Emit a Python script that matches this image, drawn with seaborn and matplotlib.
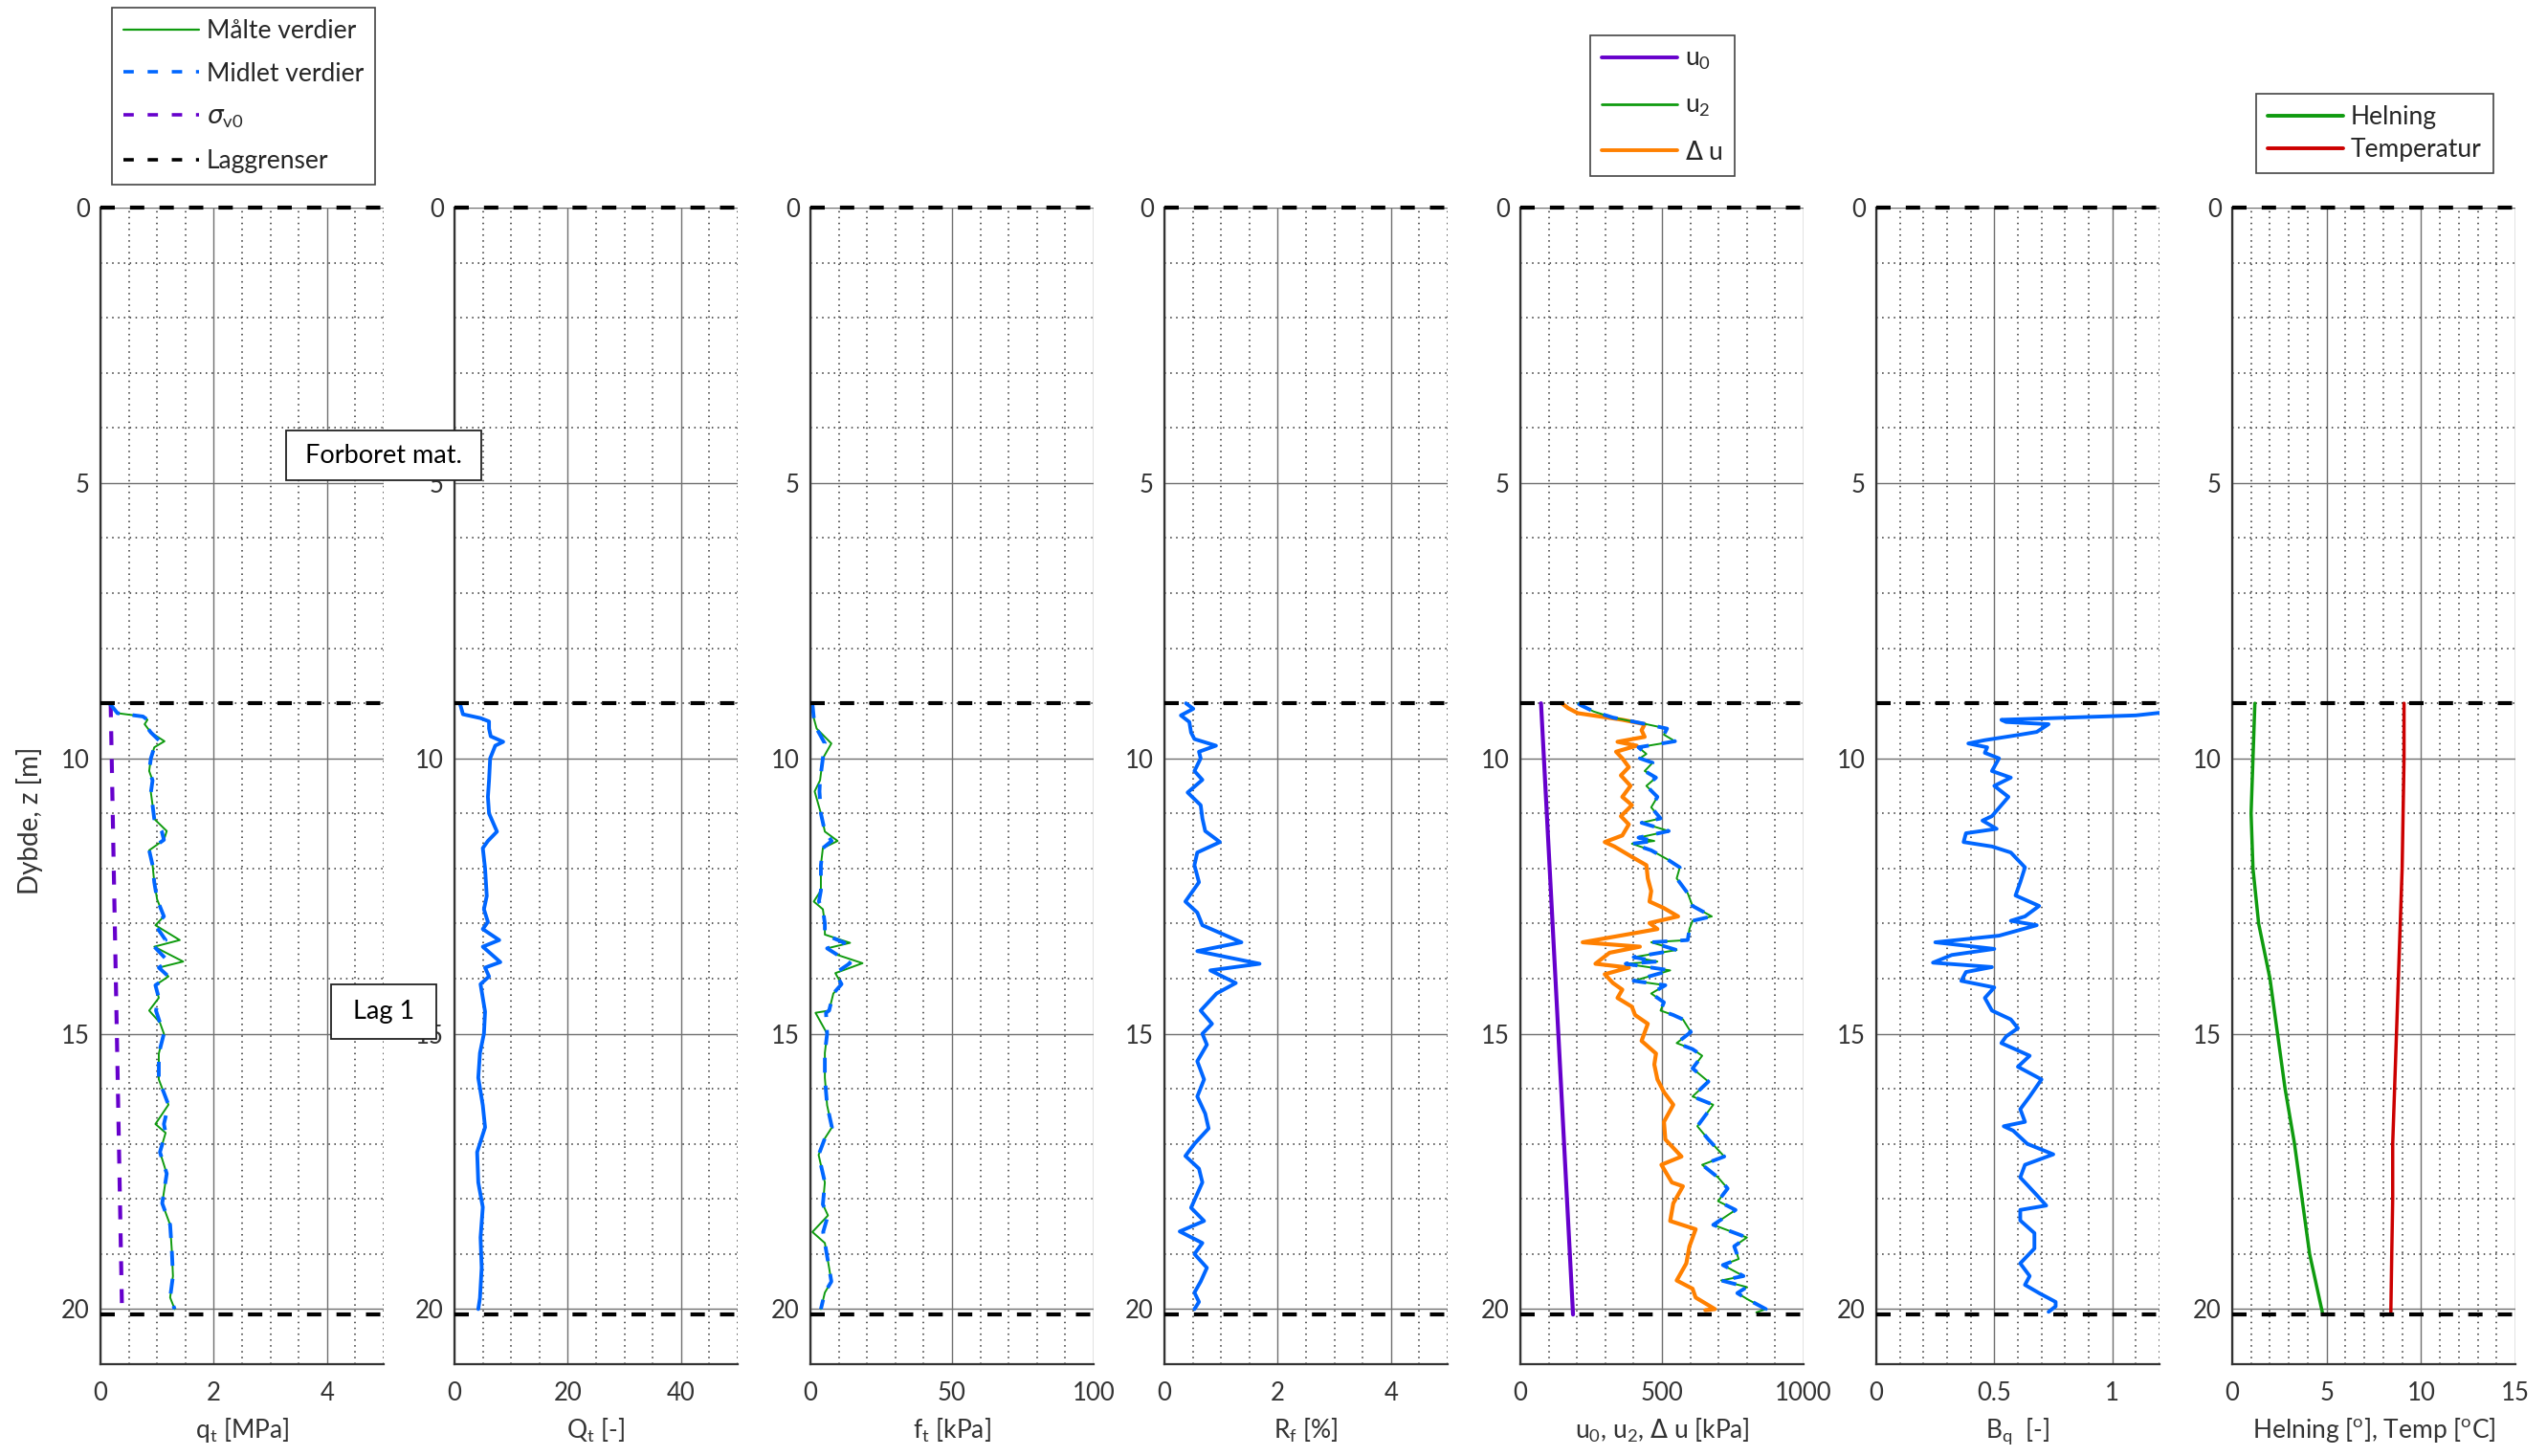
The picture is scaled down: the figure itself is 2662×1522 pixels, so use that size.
import matplotlib
matplotlib.use("Agg")
import matplotlib.pyplot as plt
from matplotlib.lines import Line2D
from matplotlib.ticker import MultipleLocator, FuncFormatter
import seaborn as sns

# ---------------- data ----------------
layer_bounds = [0.0, 9.0, 20.1]

z_qt = [9.0, 9.18, 9.24, 9.3, 9.38, 9.53, 9.69, 9.8, 10.0, 10.23, 10.4, 10.62, 10.85, 11.1, 11.32,
        11.48, 11.67, 11.94, 12.25, 12.56, 12.87, 13.03, 13.3, 13.42, 13.69, 13.8, 13.96, 14.12, 14.35,
        14.58, 14.8, 15.0, 15.36, 15.83, 16.29, 16.64, 16.8, 17.15, 17.54, 18.08, 18.47, 18.94, 19.4,
        19.79, 20.0]
qt_meas = [0.16, 0.30, 0.75, 0.83, 0.78, 0.89, 1.13, 0.95, 0.89, 0.86, 0.92, 0.89, 0.92, 0.95, 1.17,
           1.12, 0.86, 0.92, 0.95, 1.00, 1.12, 0.97, 1.40, 0.95, 1.46, 1.03, 1.20, 0.97, 1.03,
           0.86, 1.05, 1.12, 1.03, 1.03, 1.20, 0.97, 1.15, 1.05, 1.17, 1.09, 1.23, 1.26, 1.28, 1.23, 1.31]
qt_avg = [0.16, 0.30, 0.75, 0.83, 0.78, 0.89, 1.05, 0.95, 0.89, 0.86, 0.92, 0.89, 0.92, 0.95, 1.08,
          1.12, 0.86, 0.92, 0.95, 1.00, 1.12, 0.97, 1.15, 0.95, 1.20, 1.03, 1.20, 0.97, 1.03,
          0.98, 1.05, 1.12, 1.03, 1.03, 1.20, 1.12, 1.15, 1.05, 1.17, 1.09, 1.23, 1.26, 1.28, 1.23, 1.31]
z_sv0 = [9.0, 20.0]
sv0 = [0.18, 0.38]

z_Qt = [9.0, 9.2, 9.27, 9.33, 9.46, 9.6, 9.7, 9.77, 10.0, 10.4, 10.7, 11.0, 11.33, 11.5, 11.63, 12.0,
        12.5, 12.74, 12.97, 13.1, 13.3, 13.42, 13.7, 13.8, 13.96, 14.1, 14.6, 15.0, 15.35, 15.8, 16.3,
        16.7, 17.15, 17.7, 18.15, 18.7, 19.25, 19.8, 20.0]
Qt = [0.95, 1.5, 4.6, 6.1, 6.1, 6.4, 8.6, 7.2, 6.3, 6.1, 5.9, 6.1, 7.5, 5.9, 5.0, 5.4,
      5.7, 5.2, 5.9, 5.0, 7.9, 5.0, 8.1, 5.4, 6.1, 4.6, 5.4, 5.2, 4.5, 4.2, 5.0,
      5.4, 4.0, 4.2, 5.0, 4.6, 4.8, 4.5, 4.2]

z_ft = [9.0, 9.27, 9.46, 9.73, 10.0, 10.4, 10.6, 11.0, 11.33, 11.5, 11.63, 11.94, 12.4, 12.6, 12.74,
        13.0, 13.2, 13.35, 13.45, 13.57, 13.72, 13.9, 14.1, 14.27, 14.58, 14.62, 15.0, 15.35, 15.8,
        16.3, 16.7, 16.9, 17.2, 17.7, 18.1, 18.3, 18.6, 18.8, 19.25, 19.5, 19.7, 20.0]
ft_meas = [0.7, 1.2, 2.2, 7.4, 4.4, 3.4, 1.5, 3.7, 5.1, 9.6, 4.4, 3.7, 3.7, 1.2, 4.4,
           5.1, 5.1, 14.0, 5.9, 9.6, 18.4, 8.8, 11.0, 8.1, 6.6, 1.8, 5.9, 5.1, 5.1,
           5.9, 7.6, 5.1, 2.9, 5.1, 4.4, 6.2, 0.7, 5.1, 6.6, 7.4, 5.1, 3.7]
ft_avg = [0.7, 1.2, 2.2, 5.1, 4.4, 3.4, 3.2, 3.7, 5.1, 7.5, 4.4, 3.7, 3.7, 3.0, 4.4,
          5.1, 5.1, 12.0, 5.9, 9.6, 14.0, 8.8, 11.0, 8.1, 6.6, 5.5, 5.9, 5.1, 5.1,
          5.9, 7.6, 5.1, 2.9, 5.1, 4.4, 6.2, 4.5, 5.1, 6.6, 7.4, 5.1, 3.7]

z_rf = [9.0, 9.1, 9.22, 9.34, 9.53, 9.65, 9.77, 9.88, 10.0, 10.23, 10.39, 10.62, 10.85, 11.09, 11.32,
        11.52, 11.71, 11.94, 12.25, 12.6, 12.8, 13.03, 13.34, 13.5, 13.73, 13.85, 14.08, 14.27, 14.58,
        14.82, 15.0, 15.2, 15.5, 15.83, 16.14, 16.45, 16.72, 17.0, 17.22, 17.45, 17.7, 18.16, 18.4,
        18.59, 18.8, 19.0, 19.25, 19.5, 19.7, 19.87, 20.0]
Rf = [0.38, 0.51, 0.29, 0.44, 0.47, 0.53, 0.91, 0.61, 0.64, 0.53, 0.67, 0.41, 0.64, 0.67, 0.72,
      0.98, 0.58, 0.53, 0.61, 0.37, 0.58, 0.67, 1.36, 0.58, 1.68, 0.81, 1.26, 0.92, 0.64,
      0.84, 0.67, 0.75, 0.58, 0.70, 0.58, 0.72, 0.78, 0.53, 0.37, 0.61, 0.67, 0.47, 0.70,
      0.27, 0.67, 0.53, 0.75, 0.64, 0.53, 0.61, 0.53]

z_u0 = [9.0, 20.1]
u0 = [73, 186]
z_u2 = [9.0, 9.04, 9.15, 9.26, 9.38, 9.46, 9.57, 9.69, 9.8, 9.92, 10.0, 10.08, 10.23, 10.35, 10.5,
        10.7, 10.89, 11.09, 11.17, 11.32, 11.44, 11.5, 11.55, 11.67, 11.83, 11.98, 12.18, 12.45,
        12.68, 12.87, 12.95, 13.1, 13.3, 13.34, 13.48, 13.61, 13.69, 13.73, 13.85, 14.04, 14.12,
        14.27, 14.43, 14.58, 14.66, 14.74, 14.97, 15.17, 15.28, 15.4, 15.63, 15.87, 16.14, 16.29,
        16.68, 16.92, 17.23, 17.38, 17.61, 17.81, 18.04, 18.2, 18.47, 18.7, 18.86, 19.09, 19.2,
        19.4, 19.48, 19.6, 19.71, 19.83, 20.0, 20.06]
u2 = [203, 215, 259, 327, 445, 518, 507, 546, 417, 445, 422, 467, 439, 479, 445,
      484, 462, 495, 428, 524, 417, 473, 394, 462, 518, 563, 552, 591,
      608, 676, 608, 597, 591, 462, 552, 400, 484, 372, 529, 400, 512,
      462, 507, 495, 540, 574, 602, 552, 608, 642, 608, 664, 608, 681,
      625, 664, 720, 642, 698, 732, 698, 760, 681, 800, 755, 771, 715,
      788, 709, 800, 766, 805, 867, 833]
z_du = [9.0, 9.09, 9.18, 9.3, 9.38, 9.49, 9.61, 9.7, 9.77, 9.88, 10.0, 10.16, 10.31, 10.5, 10.7,
        10.85, 11.05, 11.2, 11.4, 11.52, 11.6, 11.79, 11.94, 12.18, 12.41, 12.6, 12.72, 12.87, 12.99,
        13.1, 13.34, 13.42, 13.53, 13.73, 13.8, 13.92, 14.08, 14.2, 14.35, 14.51, 14.66, 14.82,
        15.13, 15.36, 15.56, 15.83, 16.06, 16.29, 16.6, 16.92, 17.23, 17.38, 17.7, 17.77, 18.08,
        18.4, 18.55, 18.86, 19.17, 19.48, 19.63, 19.79, 20.0, 20.02]
du = [146, 169, 203, 360, 439, 428, 439, 343, 411, 338, 360, 383, 355, 389, 360,
      394, 355, 383, 360, 298, 332, 394, 445, 450, 462, 456, 507, 557, 456,
      484, 220, 422, 315, 265, 383, 298, 327, 360, 343, 394, 405, 450,
      428, 479, 473, 484, 507, 540, 507, 512, 569, 498, 535, 574, 540,
      529, 619, 597, 586, 552, 608, 619, 687, 653]

z_bq = [9.05, 9.15, 9.22, 9.3, 9.34, 9.38, 9.52, 9.57, 9.67, 9.73, 9.8, 9.9, 10.0, 10.23, 10.35,
        10.5, 10.7, 10.85, 11.05, 11.13, 11.28, 11.36, 11.52, 11.6, 11.71, 11.98, 12.25, 12.49,
        12.68, 12.87, 12.95, 13.03, 13.22, 13.34, 13.46, 13.57, 13.71, 13.79, 13.88, 14.04, 14.16,
        14.35, 14.58, 14.74, 14.9, 15.05, 15.17, 15.4, 15.6, 15.83, 16.14, 16.37, 16.6, 16.68,
        16.76, 17.0, 17.19, 17.38, 17.61, 17.93, 18.12, 18.2, 18.39, 18.62, 18.9, 19.17, 19.4,
        19.56, 19.71, 19.87, 19.95, 20.05]
Bq = [1.6, 1.25, 1.10, 0.53, 0.55, 0.73, 0.68, 0.61, 0.46, 0.39, 0.47, 0.46, 0.52, 0.49, 0.57,
      0.50, 0.56, 0.53, 0.49, 0.45, 0.51, 0.38, 0.37, 0.49, 0.57, 0.63, 0.61, 0.59,
      0.69, 0.63, 0.57, 0.68, 0.52, 0.25, 0.50, 0.32, 0.24, 0.49, 0.38, 0.36, 0.50,
      0.46, 0.49, 0.57, 0.60, 0.55, 0.53, 0.65, 0.60, 0.70, 0.65, 0.61, 0.63, 0.54,
      0.58, 0.64, 0.75, 0.63, 0.61, 0.68, 0.72, 0.61, 0.61, 0.67, 0.67, 0.61, 0.65,
      0.63, 0.69, 0.76, 0.76, 0.73]

z_inc = [9.0, 10.0, 11.0, 12.0, 13.0, 14.0, 15.0, 16.0, 17.0, 18.0, 19.0, 20.1]
helning = [1.2, 1.1, 1.0, 1.1, 1.4, 2.0, 2.4, 2.8, 3.3, 3.7, 4.1, 4.8]
temperatur = [9.1, 9.1, 9.05, 9.0, 8.9, 8.8, 8.7, 8.6, 8.5, 8.5, 8.45, 8.4]

xlabels = [r'q$_\mathregular{t}$ [MPa]', r'Q$_\mathregular{t}$ [-]', r'f$_\mathregular{t}$ [kPa]',
           r'R$_\mathregular{f}$ [%]',
           r'u$_\mathregular{0}$, u$_\mathregular{2}$, $\Delta$ u [kPa]',
           r'B$_\mathregular{q}$  [-]',
           r'Helning [$^\mathregular{o}$], Temp [$^\mathregular{o}$C]']
xlims = [5, 50, 100, 5, 1000, 1.2, 15]
xmajor = [2, 20, 50, 2, 500, 0.5, 5]
xminor = [0.5, 5, 10, 0.5, 100, 0.1, 1]

# ---------------- style ----------------
sns.set_style("white")
plt.rcParams['font.family'] = ['Lato', 'DejaVu Sans']
plt.rcParams['mathtext.fontset'] = 'dejavusans'

GREEN = '#0f9b0f'
BLUE = '#0066ff'
PURPLE = '#6600cc'
ORANGE = '#ff8000'
RED = '#cc0000'
TXT = '#333333'
FS = 19

W, H = 2662, 1522
fig = plt.figure(figsize=(W / 100, H / 100), dpi=100)
lefts = [105, 475, 847, 1217, 1589, 1961, 2333]
axw = 296
top, bot = 217, 1426
axes = [fig.add_axes([l / W, 1 - bot / H, axw / W, (bot - top) / H]) for l in lefts]

BLUE_DASH = (0, (4, 3.5))
LAYER_DASH = (0, (3.6, 3.8))


def line(ax, x, y, **kw):
    sns.lineplot(x=x, y=y, orient='y', sort=False, estimator=None, ax=ax, **kw)


# panel 1
ax = axes[0]
line(ax, sv0, z_sv0, color=PURPLE, lw=3.0, linestyle=(0, (3.5, 3.5)))
line(ax, qt_meas, z_qt, color=GREEN, lw=1.4)
line(ax, qt_avg, z_qt, color=BLUE, lw=2.8, linestyle=BLUE_DASH)
# panel 2
line(axes[1], Qt, z_Qt, color=BLUE, lw=2.8)
# panel 3
line(axes[2], ft_meas, z_ft, color=GREEN, lw=1.4)
line(axes[2], ft_avg, z_ft, color=BLUE, lw=2.8, linestyle=BLUE_DASH)
# panel 4
line(axes[3], Rf, z_rf, color=BLUE, lw=2.8)
# panel 5
line(axes[4], u0, z_u0, color=PURPLE, lw=3.0)
line(axes[4], du, z_du, color=ORANGE, lw=3.0)
line(axes[4], u2, z_u2, color=GREEN, lw=1.4)
line(axes[4], u2, z_u2, color=BLUE, lw=2.8, linestyle=BLUE_DASH)
# panel 6
line(axes[5], Bq, z_bq, color=BLUE, lw=2.8)
# panel 7
line(axes[6], helning, z_inc, color=GREEN, lw=2.5)
line(axes[6], temperatur, z_inc, color=RED, lw=2.5)

for i, ax in enumerate(axes):
    ax.set_xlim(0, xlims[i])
    ax.set_ylim(21, 0)
    ax.xaxis.set_major_locator(MultipleLocator(xmajor[i]))
    ax.xaxis.set_minor_locator(MultipleLocator(xminor[i]))
    ax.yaxis.set_major_locator(MultipleLocator(5))
    ax.yaxis.set_minor_locator(MultipleLocator(1))
    ax.xaxis.set_major_formatter(FuncFormatter(lambda v, p: f'{v:g}'))
    ax.yaxis.set_major_formatter(FuncFormatter(lambda v, p: f'{v:g}'))
    ax.grid(which='major', color='#707070', lw=1.0, ls='-')
    ax.grid(which='minor', color='#303030', lw=1.1, ls=(0, (1, 3)))
    ax.set_axisbelow(True)
    for s in ['top', 'right']:
        ax.spines[s].set_visible(False)
    for s in ['left', 'bottom']:
        ax.spines[s].set_color(TXT)
        ax.spines[s].set_linewidth(1.6)
    ax.tick_params(which='both', direction='in', color=TXT, width=1.2,
                   labelsize=18.5, labelcolor=TXT)
    ax.tick_params(which='major', length=9)
    ax.tick_params(which='minor', length=5)
    ax.tick_params(axis='x', pad=13)
    ax.tick_params(axis='y', pad=8)
    ax.set_xlabel(xlabels[i], fontsize=FS, color=TXT, labelpad=8)
    ax.set_ylabel('')
    for d in layer_bounds:
        ax.axhline(d, color='black', lw=3.0, ls=LAYER_DASH, clip_on=False, zorder=5)

fig.text(31 / W, 1 - 858 / H, 'Dybde, z [m]', rotation=90, ha='center', va='center',
         fontsize=20, color=TXT)

# text boxes on top of everything
fig.text(5.0, 4.5, ' Forboret mat. ', transform=axes[0].transData, ha='center', va='center',
         fontsize=19.5, color='black',
         bbox=dict(boxstyle='square,pad=0.5', fc='white', ec='#222222', lw=1.3), zorder=10)
fig.text(5.0, 14.6, ' Lag 1 ', transform=axes[0].transData, ha='center', va='center',
         fontsize=19.5, color='black',
         bbox=dict(boxstyle='square,pad=0.6', fc='white', ec='#222222', lw=1.3), zorder=10)

leg_kw = dict(loc='upper left', frameon=True, fancybox=False, edgecolor='#444444', framealpha=1,
              fontsize=FS, handlelength=3.0, handletextpad=0.3, borderpad=0.45, borderaxespad=0)

h1 = [Line2D([], [], color=GREEN, lw=1.6),
      Line2D([], [], color=BLUE, lw=2.6, ls=(0, (3, 4))),
      Line2D([], [], color=PURPLE, lw=2.6, ls=(0, (3, 4))),
      Line2D([], [], color='black', lw=2.6, ls=(0, (3, 4)))]
l1 = ['Målte verdier', 'Midlet verdier', r'$\sigma_\mathregular{v0}$', 'Laggrenser']
lg = fig.legend(h1, l1, bbox_to_anchor=(117 / W, 1 - 8 / H), labelspacing=0.75, **leg_kw)
lg.get_frame().set_linewidth(1.2)

h5 = [Line2D([], [], color=PURPLE, lw=2.8),
      Line2D([], [], color=GREEN, lw=2.0),
      Line2D([], [], color=ORANGE, lw=2.8)]
l5 = [r'u$_\mathregular{0}$', r'u$_\mathregular{2}$', r'$\Delta$ u']
lg = fig.legend(h5, l5, bbox_to_anchor=(1662 / W, 1 - 37 / H), labelspacing=0.85, **leg_kw)
lg.get_frame().set_linewidth(1.2)

h7 = [Line2D([], [], color=GREEN, lw=2.8), Line2D([], [], color=RED, lw=2.8)]
l7 = ['Helning', 'Temperatur']
lg = fig.legend(h7, l7, bbox_to_anchor=(2358 / W, 1 - 98 / H), labelspacing=0.35, **leg_kw)
lg.get_frame().set_linewidth(1.2)

fig.savefig('out.png', dpi=100, facecolor='white')
